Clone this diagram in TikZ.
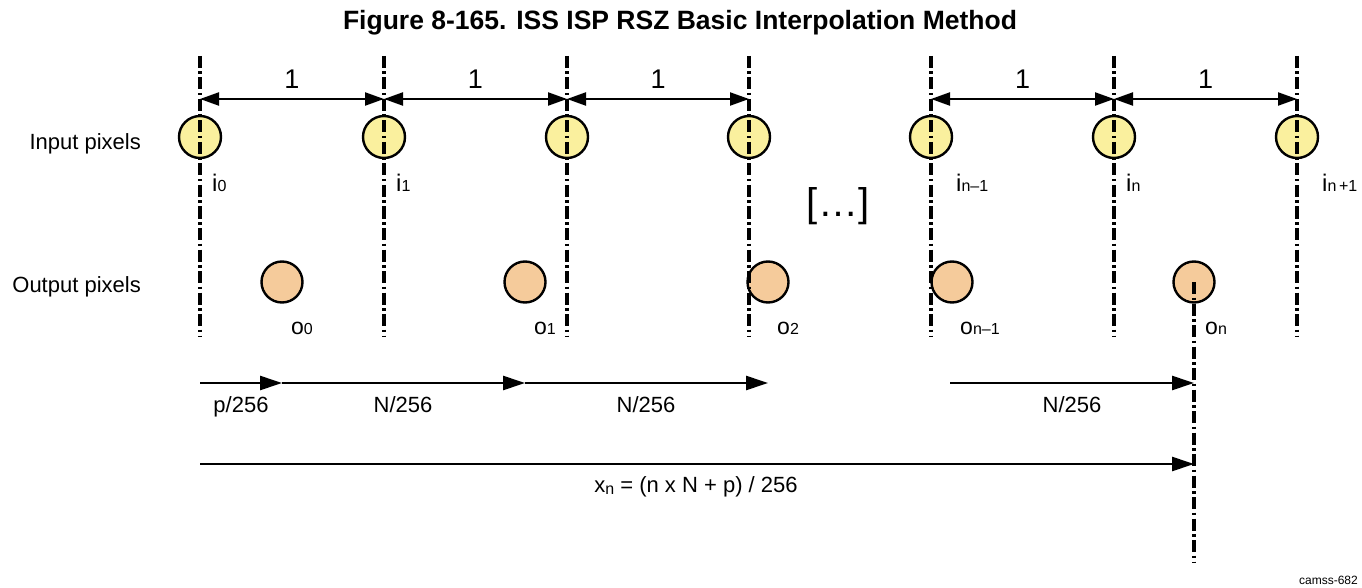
\documentclass[tikz,border=0pt]{standalone}
\usepackage{fontspec}
\setmainfont{Liberation Sans}
\usetikzlibrary{arrows.meta}
\definecolor{inyellow}{RGB}{250,240,158}
\definecolor{outorange}{RGB}{245,203,155}
\newcommand{\sbx}[1]{{\fontsize{16}{16}\selectfont #1}}
\begin{document}
\begin{tikzpicture}[x=1pt,y=-1pt,
  guide/.style={line width=3.2pt, dash pattern=on 12pt off 3.5pt on 2.5pt off 3.5pt},
  inpix/.style={circle, draw, line width=2.4pt, fill=inyellow, minimum size=42pt, inner sep=0pt},
  outpix/.style={circle, draw, line width=2.4pt, fill=outorange, minimum size=41pt, inner sep=0pt},
  dimarr/.style={line width=2.2pt, {Triangle[length=19pt,width=13pt]}-{Triangle[length=19pt,width=13pt]}},
  fwdarr/.style={line width=2.6pt, -{Triangle[length=22pt,width=14pt]}},
  lbl/.style={font=\fontsize{22}{24}\selectfont, inner sep=0pt, anchor=base},
  one/.style={font=\fontsize{27}{29}\selectfont, inner sep=0pt, anchor=base},
  ilbl/.style={font=\fontsize{24}{26}\selectfont, inner sep=0pt, anchor=base west},
  olbl/.style={font=\fontsize{23}{25}\selectfont, inner sep=0pt, anchor=base west}
]
\useasboundingbox (0,0) rectangle (1362,588);

% title
\node[font=\fontsize{26.5}{28}\bfseries, anchor=base, inner sep=0pt] (title) at (680,30)
  {Figure 8-165. ISS ISP RSZ Basic Interpolation Method};

% row labels
\node[lbl, anchor=base east] (inlab) at (141,150) {Input pixels};
\node[lbl, anchor=base east] (outlab) at (141,292) {Output pixels};

% input pixels and guide-line end points
\foreach \x [count=\k from 0] in {200,384,567,749,931,1114,1297} {
  \node[inpix] (i\k) at (\x,137) {};
  \coordinate (gt\k) at (\x,56);
  \coordinate (gb\k) at (\x,337);
  \coordinate (d\k) at (\x,99);
}

% output pixels
\foreach \x [count=\k from 0] in {282,525,768,952,1194} {
  \node[outpix] (o\k) at (\x,282) {};
}

% guide lines
\foreach \k in {0,...,6} { \draw[guide] (gt\k) -- (gb\k); }
\coordinate (onb) at (1194,562);
\draw[guide] (o4.center) -- (onb);

% unit distances
\foreach \a/\b in {0/1,1/2,2/3,4/5,5/6} {
  \draw[dimarr] (d\a) -- (d\b) node[one, midway, yshift=10pt] {1};
}

% input labels
\node[ilbl] (li0) at (212,192) {i\sbx{0}};
\node[ilbl] (li1) at (396,192) {i\sbx{1}};
\node[ilbl] (li4) at (956,192) {i\sbx{n–1}};
\node[ilbl] (li5) at (1126,192) {i\sbx{n}};
\node[ilbl] (li6) at (1322,192) {i\sbx{n\,+1}};

% ellipsis
\node[font=\fontsize{40}{42}\selectfont, inner sep=0pt] (dots) at (838,206) {[…]};

% output labels
\node[olbl] (lo0) at (291,334) {o\sbx{0}};
\node[olbl] (lo1) at (534,334) {o\sbx{1}};
\node[olbl] (lo2) at (777,334) {o\sbx{2}};
\node[olbl] (lo3) at (960,334) {o\sbx{n–1}};
\node[olbl] (lo4) at (1205,334) {o\sbx{n}};

% step arrows
\coordinate (a0) at (200,383);
\coordinate (a1) at (282,383);
\coordinate (a2) at (525,383);
\coordinate (a3) at (768,383);
\coordinate (a4) at (950,383);
\coordinate (a5) at (1194,383);
\coordinate (b0) at (200,464);
\coordinate (b1) at (1194,464);
\draw[fwdarr] (a0) -- (a1);
\draw[fwdarr] (a1) -- (a2);
\draw[fwdarr] (a2) -- (a3);
\draw[fwdarr] (a4) -- (a5);
\draw[fwdarr] (b0) -- (b1);
\node[lbl] (lp) at (241,412) {p/256};
\node[lbl] (ln1) at (403,412) {N/256};
\node[lbl] (ln2) at (646,412) {N/256};
\node[lbl] (ln3) at (1072,412) {N/256};
\node[lbl] (lx) at (696,492) {x\raisebox{-2pt}{\sbx{n}} = (n x N + p) / 256};

% figure id
\node[font=\fontsize{12}{13}\selectfont, anchor=base east, inner sep=0pt] (fid) at (1358,584) {camss-682};
\end{tikzpicture}
\end{document}
